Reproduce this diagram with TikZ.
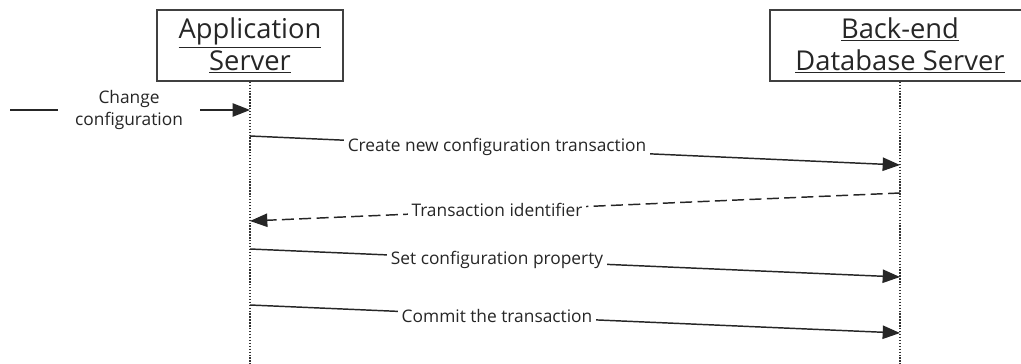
\documentclass[tikz,border=0pt]{standalone}
\usepackage{fontspec}
\setmainfont{Open Sans}
\usepackage{tikz}
\usetikzlibrary{arrows.meta, positioning}
\tikzstyle{actor} = [rectangle, draw=black!75, line width=1.3pt, minimum width=139.5pt, minimum height=53pt, inner sep=0pt, align=center, text=black!85, font=\fontsize{20.5}{24}\selectfont]
\tikzstyle{lifeline} = [black!80, line width=0.9pt, dash pattern=on 1pt off 1.2pt]
\tikzstyle{msg} = [black!85, line width=1.1pt, -{Triangle[length=13pt, width=10pt]}]
\tikzstyle{reply} = [msg, dash pattern=on 9pt off 4pt]
\tikzstyle{lbl} = [fill=white, inner sep=3pt, align=center, text=black!85, font=\fontsize{13}{17}\selectfont]

\begin{document}
\begin{tikzpicture}[x=0.75pt, y=-0.75pt]
            \useasboundingbox (0,0) rectangle (1021,364);

            % Lifeline heads
            \node[actor] (app) at (250,45.5) {\underline{Application}\\\underline{Server}};
            \node[actor, minimum width=195pt] (db) at (900,45.5) {\underline{Back-end}\\\underline{Database Server}};

            % Lifelines
            \coordinate (append) at (app |- 0,364);
            \coordinate (dbend) at (db |- 0,364);
            \draw[lifeline] (app) -- (append);
            \draw[lifeline] (db) -- (dbend);

            % Message end points
            \coordinate (in) at (10,110);
            \coordinate (a0) at (app |- 0,110);
            \coordinate (a1) at (app |- 0,136);
            \coordinate (b1) at (db |- 0,165);
            \coordinate (b2) at (db |- 0,193);
            \coordinate (a2) at (app |- 0,221);
            \coordinate (a3) at (app |- 0,249);
            \coordinate (b3) at (db |- 0,277);
            \coordinate (a4) at (app |- 0,305);
            \coordinate (b4) at (db |- 0,333);

            % Messages
            \draw[msg] (in) -- node[lbl, pos=0.496, inner xsep=13pt] {Change\\configuration} (a0);
            \draw[msg] (a1) -- node[lbl, pos=0.38] {Create new configuration transaction} (b1);
            \draw[reply] (b2) -- node[lbl, pos=0.62] {Transaction identifier} (a2);
            \draw[msg] (a3) -- node[lbl, pos=0.38] {Set configuration property} (b3);
            \draw[msg] (a4) -- node[lbl, pos=0.38] {Commit the transaction} (b4);
        \end{tikzpicture}
\end{document}
